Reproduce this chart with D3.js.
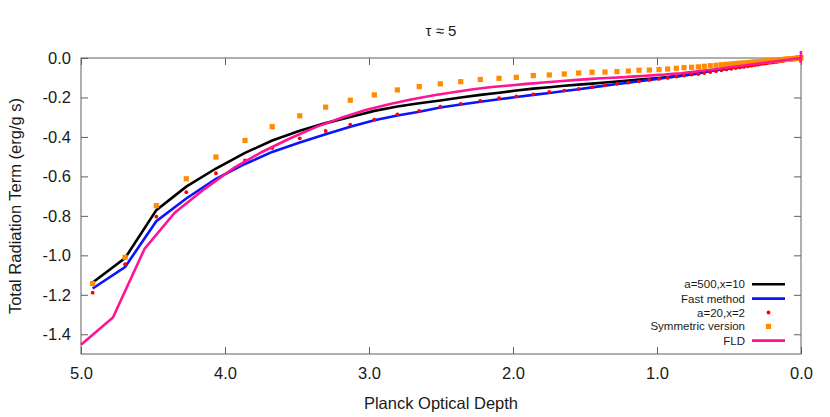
<!DOCTYPE html>
<html>
<head>
<meta charset="utf-8">
<script src="https://cdn.jsdelivr.net/npm/d3@7"></script>
<style>
  body { margin: 0; background: #fff; }
  svg { font-family: "Liberation Sans", Arial, sans-serif; }
</style>
</head>
<body>
<svg id="chart" width="830" height="417"></svg>
<script>
// optical depth grid shared by the three "a=..." / fast / symmetric runs
const tauGrid = [4.919, 4.694, 4.477, 4.269, 4.063, 3.861, 3.672, 3.481, 3.301, 3.130,
  2.963, 2.803, 2.651, 2.505, 2.363, 2.227, 2.097, 1.977, 1.859, 1.748,
  1.644, 1.544, 1.451, 1.361, 1.278, 1.199, 1.125, 1.053, 0.986, 0.926,
  0.866, 0.812, 0.760, 0.713, 0.672, 0.630, 0.590, 0.553, 0.517, 0.484,
  0.453, 0.424, 0.396, 0.369, 0.344, 0.321, 0.299, 0.278, 0.258, 0.240,
  0.223, 0.207, 0.192, 0.177, 0.164, 0.151, 0.140, 0.128, 0.118, 0.108,
  0.099, 0.090, 0.082, 0.074, 0.067, 0.060, 0.054, 0.049, 0.043, 0.038,
  0.033, 0.029, 0.025, 0.022, 0.018, 0.015, 0.012, 0.009, 0.007, 0.005,
  0.003, 0.001];

const a500x10 = [-1.138, -1.014, -0.771, -0.652, -0.560, -0.481, -0.418, -0.369, -0.330, -0.299,
  -0.268, -0.246, -0.229, -0.215, -0.200, -0.187, -0.176, -0.165, -0.155, -0.148,
  -0.141, -0.135, -0.130, -0.124, -0.119, -0.114, -0.109, -0.105, -0.101, -0.097,
  -0.093, -0.087, -0.082, -0.077, -0.070, -0.066, -0.061, -0.058, -0.054, -0.050,
  -0.047, -0.044, -0.041, -0.038, -0.036, -0.033, -0.031, -0.029, -0.027, -0.025,
  -0.023, -0.022, -0.020, -0.018, -0.017, -0.016, -0.015, -0.013, -0.012, -0.011,
  -0.010, -0.009, -0.009, -0.008, -0.007, -0.006, -0.006, -0.005, -0.004, -0.004,
  -0.003, -0.003, -0.003, -0.002, -0.002, -0.002, -0.001, -0.001, -0.001, -0.001,
  0.000, 0.000];

const fastMethod = [-1.168, -1.059, -0.827, -0.712, -0.613, -0.537, -0.476, -0.428, -0.386, -0.348,
  -0.315, -0.291, -0.272, -0.251, -0.236, -0.222, -0.209, -0.198, -0.187, -0.177,
  -0.167, -0.158, -0.149, -0.140, -0.132, -0.125, -0.118, -0.111, -0.105, -0.099,
  -0.093, -0.088, -0.083, -0.078, -0.071, -0.066, -0.062, -0.058, -0.054, -0.051,
  -0.048, -0.045, -0.042, -0.039, -0.036, -0.034, -0.031, -0.029, -0.027, -0.025,
  -0.023, -0.022, -0.020, -0.019, -0.017, -0.016, -0.015, -0.013, -0.012, -0.011,
  -0.010, -0.009, -0.009, -0.008, -0.007, -0.006, -0.006, -0.005, -0.005, -0.004,
  -0.003, -0.003, -0.003, -0.002, -0.002, -0.002, -0.001, -0.001, -0.001, -0.001,
  0.000, 0.000];

const a20x2 = [-1.189, -1.045, -0.804, -0.680, -0.584, -0.519, -0.456, -0.407, -0.370, -0.338,
  -0.313, -0.286, -0.268, -0.247, -0.232, -0.217, -0.204, -0.194, -0.184, -0.172,
  -0.165, -0.157, -0.148, -0.138, -0.131, -0.125, -0.118, -0.111, -0.106, -0.101,
  -0.094, -0.089, -0.084, -0.081, -0.076, -0.071, -0.067, -0.062, -0.058, -0.055,
  -0.051, -0.048, -0.045, -0.042, -0.039, -0.036, -0.034, -0.031, -0.029, -0.027,
  -0.025, -0.023, -0.022, -0.020, -0.019, -0.017, -0.016, -0.014, -0.013, -0.012,
  -0.011, -0.010, -0.009, -0.008, -0.008, -0.007, -0.006, -0.006, -0.005, -0.004,
  -0.004, -0.003, -0.003, -0.002, -0.002, -0.002, -0.001, -0.001, -0.001, -0.001,
  0.000, 0.000];

const symmetric = [-1.143, -1.010, -0.748, -0.612, -0.502, -0.418, -0.348, -0.293, -0.249, -0.214,
  -0.187, -0.162, -0.145, -0.131, -0.120, -0.109, -0.103, -0.098, -0.089, -0.086,
  -0.081, -0.076, -0.072, -0.071, -0.069, -0.066, -0.062, -0.061, -0.059, -0.056,
  -0.052, -0.049, -0.047, -0.045, -0.042, -0.039, -0.037, -0.034, -0.032, -0.030,
  -0.028, -0.026, -0.025, -0.023, -0.021, -0.020, -0.019, -0.017, -0.016, -0.015,
  -0.014, -0.013, -0.012, -0.011, -0.010, -0.009, -0.009, -0.008, -0.007, -0.007,
  -0.006, -0.006, -0.005, -0.005, -0.004, -0.004, -0.003, -0.003, -0.003, -0.002,
  -0.002, -0.002, -0.002, -0.001, -0.001, -0.001, -0.001, 0.000, 0.000, 0.000,
  0.001, 0.002];

// flux limited diffusion lives on its own (cell edge) grid
const fldTau = [5.000, 4.778, 4.558, 4.349, 4.141, 3.935, 3.740, 3.550, 3.365, 3.191,
  3.023, 2.861, 2.708, 2.558, 2.415, 2.276, 2.146, 2.023, 1.905, 1.788,
  1.678, 1.576, 1.479, 1.390, 1.306, 1.225, 1.150, 1.079, 1.011, 0.948,
  0.887, 0.833, 0.781, 0.731, 0.688, 0.606, 0.532, 0.466, 0.407, 0.355,
  0.308, 0.266, 0.229, 0.197, 0.169, 0.144, 0.122, 0.103, 0.086, 0.071,
  0.057, 0.046, 0.035, 0.027, 0.019, 0.013, 0.008, 0.004, 0.002, 0.000];

const fld = [-1.453, -1.315, -0.966, -0.784, -0.663, -0.555, -0.475, -0.408, -0.349, -0.303,
  -0.264, -0.234, -0.210, -0.190, -0.174, -0.158, -0.147, -0.139, -0.131, -0.124,
  -0.118, -0.112, -0.107, -0.103, -0.100, -0.097, -0.093, -0.090, -0.087, -0.084,
  -0.080, -0.077, -0.073, -0.069, -0.065, -0.058, -0.051, -0.044, -0.039, -0.034,
  -0.029, -0.025, -0.022, -0.019, -0.016, -0.014, -0.012, -0.010, -0.008, -0.007,
  -0.005, -0.004, -0.003, -0.003, -0.002, -0.001, -0.001, -0.012, -0.025, 0.035];

const xTicks = [5, 4, 3, 2, 1, 0];
const yTicks = [0, -0.2, -0.4, -0.6, -0.8, -1.0, -1.2, -1.4];
const legendLabels = ["a=500,x=10", "Fast method", "a=20,x=2", "Symmetric version", "FLD"];

const svg = d3.select("#chart");
const plotLeft = 81, plotRight = 801, plotTop = 58, plotBottom = 354;
const axisGray = "#606060";

const xScale = d3.scaleLinear().domain([5, 0]).range([plotLeft, plotRight]);
const yScale = d3.scaleLinear().domain([-1.5, 0]).range([plotBottom, plotTop]);
const fmt = d => d.toFixed(1);

// frame
svg.append("rect")
  .attr("x", plotLeft).attr("y", plotTop)
  .attr("width", plotRight - plotLeft).attr("height", plotBottom - plotTop)
  .attr("fill", "none").attr("stroke", axisGray).attr("stroke-width", 1);

function styleAxis(g) {
  g.select(".domain").remove();
  g.selectAll(".tick line").attr("stroke", axisGray);
  g.selectAll(".tick text").attr("fill", "#1a1a1a").style("font-size", "16.5px");
}

svg.append("g")
  .attr("transform", `translate(0,${plotBottom})`)
  .call(d3.axisBottom(xScale).tickValues(xTicks).tickFormat(fmt).tickSize(-7).tickPadding(13))
  .call(styleAxis);
svg.append("g")
  .attr("transform", `translate(0,${plotTop})`)
  .call(d3.axisTop(xScale).tickValues(xTicks).tickFormat("").tickSize(-7))
  .call(styleAxis);
svg.append("g")
  .attr("transform", `translate(${plotLeft},0)`)
  .call(d3.axisLeft(yScale).tickValues(yTicks).tickFormat(fmt).tickSize(-7).tickPadding(10))
  .call(styleAxis);
svg.append("g")
  .attr("transform", `translate(${plotRight},0)`)
  .call(d3.axisRight(yScale).tickValues(yTicks).tickFormat("").tickSize(-7))
  .call(styleAxis);

// labels
svg.append("text")
  .attr("x", 441).attr("y", 36)
  .attr("text-anchor", "middle")
  .style("font-size", "15px")
  .attr("fill", "#1a1a1a")
  .text("τ ≈ 5");
svg.append("text")
  .attr("x", 441).attr("y", 409)
  .attr("text-anchor", "middle")
  .style("font-size", "16.5px")
  .attr("fill", "#1a1a1a")
  .text("Planck Optical Depth");
svg.append("text")
  .attr("transform", `translate(21,${(plotTop + plotBottom) / 2}) rotate(-90)`)
  .attr("text-anchor", "middle")
  .style("font-size", "16.5px")
  .attr("fill", "#1a1a1a")
  .text("Total Radiation Term (erg/g s)");

const line = d3.line().x(d => xScale(d[0])).y(d => yScale(d[1]));
const zip = (xs, ys) => xs.map((t, i) => [t, ys[i]]);

const plot = svg.append("g");

plot.append("path")
  .attr("d", line(zip(tauGrid, a500x10)))
  .attr("fill", "none").attr("stroke", "#000000").attr("stroke-width", 2.6);

plot.append("path")
  .attr("d", line(zip(tauGrid, fastMethod)))
  .attr("fill", "none").attr("stroke", "#0a14ff").attr("stroke-width", 2.6);

plot.selectAll(".red-dot")
  .data(zip(tauGrid, a20x2))
  .enter().append("circle")
  .attr("class", "red-dot")
  .attr("cx", d => xScale(d[0]))
  .attr("cy", d => yScale(d[1]))
  .attr("r", 1.9)
  .attr("fill", "#ff0000");

plot.selectAll(".orange-sq")
  .data(zip(tauGrid, symmetric))
  .enter().append("rect")
  .attr("class", "orange-sq")
  .attr("x", d => xScale(d[0]) - 2.6)
  .attr("y", d => yScale(d[1]) - 2.6)
  .attr("width", 5.2).attr("height", 5.2)
  .attr("fill", "#ff8c00");

plot.append("path")
  .attr("d", line(zip(fldTau, fld)))
  .attr("fill", "none").attr("stroke", "#ff1493").attr("stroke-width", 2.6);

// legend, bottom right, gnuplot style (text right aligned, sample on the right)
const legendY = [284.3, 298.6, 312.5, 326.4, 340.6];
const legend = svg.append("g");
legendLabels.forEach((label, i) => {
  const y = legendY[i];
  legend.append("text")
    .attr("x", 745).attr("y", y)
    .attr("dy", "0.35em")
    .attr("text-anchor", "end")
    .style("font-size", "11.5px")
    .attr("fill", "#1a1a1a")
    .text(label);
  if (i === 0 || i === 1 || i === 4) {
    const colour = ["#000000", "#0a14ff", null, null, "#ff1493"][i];
    legend.append("line")
      .attr("x1", 752).attr("x2", 785)
      .attr("y1", y).attr("y2", y)
      .attr("stroke", colour).attr("stroke-width", 2.6);
  } else if (i === 2) {
    legend.append("circle")
      .attr("cx", 768.5).attr("cy", y).attr("r", 1.9).attr("fill", "#ff0000");
  } else {
    legend.append("rect")
      .attr("x", 768.5 - 2.6).attr("y", y - 2.6)
      .attr("width", 5.2).attr("height", 5.2).attr("fill", "#ff8c00");
  }
});
</script>
</body>
</html>
